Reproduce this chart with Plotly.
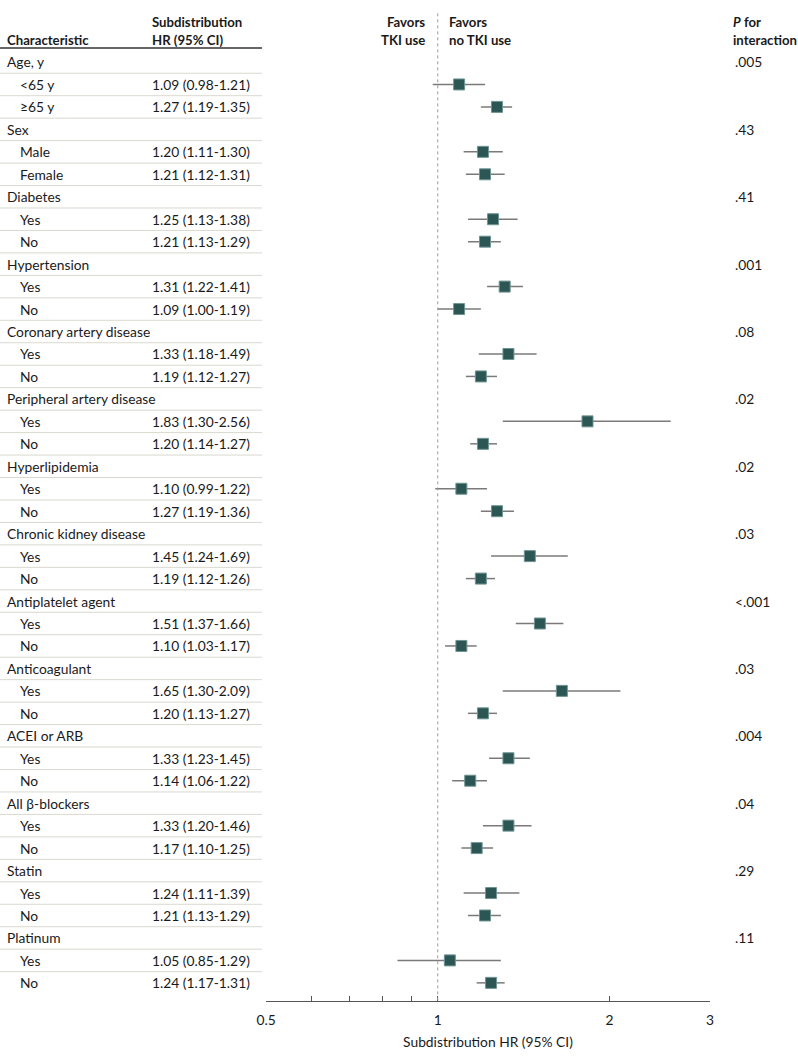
import plotly.graph_objects as go
import math

groups = ["Age, y", "Sex", "Diabetes", "Hypertension", "Coronary artery disease",
          "Peripheral artery disease", "Hyperlipidemia", "Chronic kidney disease",
          "Antiplatelet agent", "Anticoagulant", "ACEI or ARB", "All β-blockers",
          "Statin", "Platinum"]
subgroups = [["<65 y", "≥65 y"], ["Male", "Female"], ["Yes", "No"], ["Yes", "No"],
             ["Yes", "No"], ["Yes", "No"], ["Yes", "No"], ["Yes", "No"],
             ["Yes", "No"], ["Yes", "No"], ["Yes", "No"], ["Yes", "No"],
             ["Yes", "No"], ["Yes", "No"]]
hr = [[1.09, 1.27], [1.20, 1.21], [1.25, 1.21], [1.31, 1.09], [1.33, 1.19],
      [1.83, 1.20], [1.10, 1.27], [1.45, 1.19], [1.51, 1.10], [1.65, 1.20],
      [1.33, 1.14], [1.33, 1.17], [1.24, 1.21], [1.05, 1.24]]
lo = [[0.98, 1.19], [1.11, 1.12], [1.13, 1.13], [1.22, 1.00], [1.18, 1.12],
      [1.30, 1.14], [0.99, 1.19], [1.24, 1.12], [1.37, 1.03], [1.30, 1.13],
      [1.23, 1.06], [1.20, 1.10], [1.11, 1.13], [0.85, 1.17]]
hi = [[1.21, 1.35], [1.30, 1.31], [1.38, 1.29], [1.41, 1.19], [1.49, 1.27],
      [2.56, 1.27], [1.22, 1.36], [1.69, 1.26], [1.66, 1.17], [2.09, 1.27],
      [1.45, 1.22], [1.46, 1.25], [1.39, 1.29], [1.29, 1.31]]
p_interaction = [".005", ".43", ".41", ".001", ".08", ".02", ".02", ".03",
                 "<.001", ".03", ".004", ".04", ".29", ".11"]
tick_vals = [0.5, 0.6, 0.7, 0.8, 0.9, 1, 2, 3]
tick_text = ["0.5", "", "", "", "", "1", "2", "3"]

W, H = 798, 1057
ROW0, DY = 62.0, 22.46
TOP_PX, AX_PX = 10.0, 1001.0
X_L, X_R = 266.0, 710.0

FONT = "Lato"
TXT = "#1a1a1a"
fs = 13.8
fh = 13.2

rows_hr, rows_lo, rows_hi, rows_y = [], [], [], []
annotations = []
shapes = []
r = 0
for gi, g in enumerate(groups):
    annotations.append(dict(x=5 / W, y=r, xref="paper", yref="y", text=g, showarrow=False,
                            xanchor="left", yanchor="middle", font=dict(size=fs, color=TXT, family=FONT)))
    annotations.append(dict(x=733 / W, y=r, xref="paper", yref="y", text=p_interaction[gi], showarrow=False,
                            xanchor="left", yanchor="middle", font=dict(size=fs, color=TXT, family=FONT)))
    r += 1
    for si, s in enumerate(subgroups[gi]):
        annotations.append(dict(x=18 / W, y=r, xref="paper", yref="y", text=s, showarrow=False,
                                xanchor="left", yanchor="middle", font=dict(size=fs, color=TXT, family=FONT)))
        annotations.append(dict(x=150 / W, y=r, xref="paper", yref="y",
                                text=f"{hr[gi][si]:.2f} ({lo[gi][si]:.2f}-{hi[gi][si]:.2f})",
                                showarrow=False, xanchor="left", yanchor="middle",
                                font=dict(size=fs, color=TXT, family=FONT)))
        rows_hr.append(hr[gi][si]); rows_lo.append(lo[gi][si]); rows_hi.append(hi[gi][si]); rows_y.append(r)
        r += 1
nrows = r

for k in range(nrows - 1):
    shapes.append(dict(type="line", xref="paper", yref="y", x0=0, x1=262 / W, y0=k + 0.5, y1=k + 0.5,
                       line=dict(color="#d9d9cf", width=1)))
shapes.append(dict(type="line", xref="paper", yref="y", x0=0, x1=262 / W, y0=-0.62, y1=-0.62,
                   line=dict(color="#666666", width=2)))

ymin = (TOP_PX - ROW0) / DY
ymax = (AX_PX - ROW0) / DY
ydom = [1 - AX_PX / H, 1 - TOP_PX / H]

shapes.append(dict(type="line", xref="x", yref="y", x0=1, x1=1, y0=ymin + 0.15, y1=ymax,
                   line=dict(color="#999999", width=1, dash="dot")))

fig = go.Figure()
for i in range(len(rows_y)):
    fig.add_trace(go.Scatter(x=[rows_lo[i], rows_hi[i]], y=[rows_y[i], rows_y[i]], mode="lines",
                             line=dict(color="#7a7a7a", width=1.5), showlegend=False, hoverinfo="skip"))
fig.add_trace(go.Scatter(x=rows_hr, y=rows_y, mode="markers",
                         marker=dict(symbol="square", size=11, color="#2b5654",
                                     line=dict(color="#6f9593", width=1)),
                         showlegend=False))

hb = dict(size=fh, color=TXT, family=FONT)
annotations += [
    dict(x=5 / W, y=-1.0, xref="paper", yref="y", text="<b>Characteristic</b>", showarrow=False,
         xanchor="left", yanchor="middle", font=hb),
    dict(x=150 / W, y=-1.0, xref="paper", yref="y", text="<b>HR (95% CI)</b>", showarrow=False,
         xanchor="left", yanchor="middle", font=hb),
    dict(x=150 / W, y=-1.8, xref="paper", yref="y", text="<b>Subdistribution</b>", showarrow=False,
         xanchor="left", yanchor="middle", font=hb),
    dict(x=427 / W, y=-1.8, xref="paper", yref="y", text="<b>Favors</b>", showarrow=False,
         xanchor="right", yanchor="middle", font=hb),
    dict(x=427 / W, y=-1.0, xref="paper", yref="y", text="<b>TKI use</b>", showarrow=False,
         xanchor="right", yanchor="middle", font=hb),
    dict(x=447 / W, y=-1.8, xref="paper", yref="y", text="<b>Favors</b>", showarrow=False,
         xanchor="left", yanchor="middle", font=hb),
    dict(x=447 / W, y=-1.0, xref="paper", yref="y", text="<b>no TKI use</b>", showarrow=False,
         xanchor="left", yanchor="middle", font=hb),
    dict(x=731 / W, y=-1.8, xref="paper", yref="y", text="<b><i>P</i> for</b>", showarrow=False,
         xanchor="left", yanchor="middle", font=hb),
    dict(x=731 / W, y=-1.0, xref="paper", yref="y", text="<b>interaction</b>", showarrow=False,
         xanchor="left", yanchor="middle", font=hb),
]

fig.update_layout(
    width=W, height=H, margin=dict(l=0, r=0, t=0, b=0, pad=0, autoexpand=False),
    paper_bgcolor="white", plot_bgcolor="white",
    annotations=annotations, shapes=shapes,
    xaxis=dict(type="log", range=[math.log10(0.5), math.log10(3)], automargin=False,
               domain=[X_L / W, X_R / W], tickvals=tick_vals, ticktext=tick_text,
               ticks="inside", ticklen=5, tickcolor="#555", showline=True, linecolor="#555",
               linewidth=1, showgrid=False, zeroline=False, ticklabelstandoff=6,
               tickfont=dict(size=fs, color=TXT, family=FONT),
               title=dict(text="Subdistribution HR (95% CI)", font=dict(size=fs, color=TXT, family=FONT),
                          standoff=10)),
    yaxis=dict(range=[ymax, ymin], domain=ydom, showticklabels=False, showgrid=False, automargin=False,
               zeroline=False, showline=False, ticks=""),
)
fig.write_html("out.html", post_script="document.body.style.margin='0';",
               config={"displayModeBar": False})
